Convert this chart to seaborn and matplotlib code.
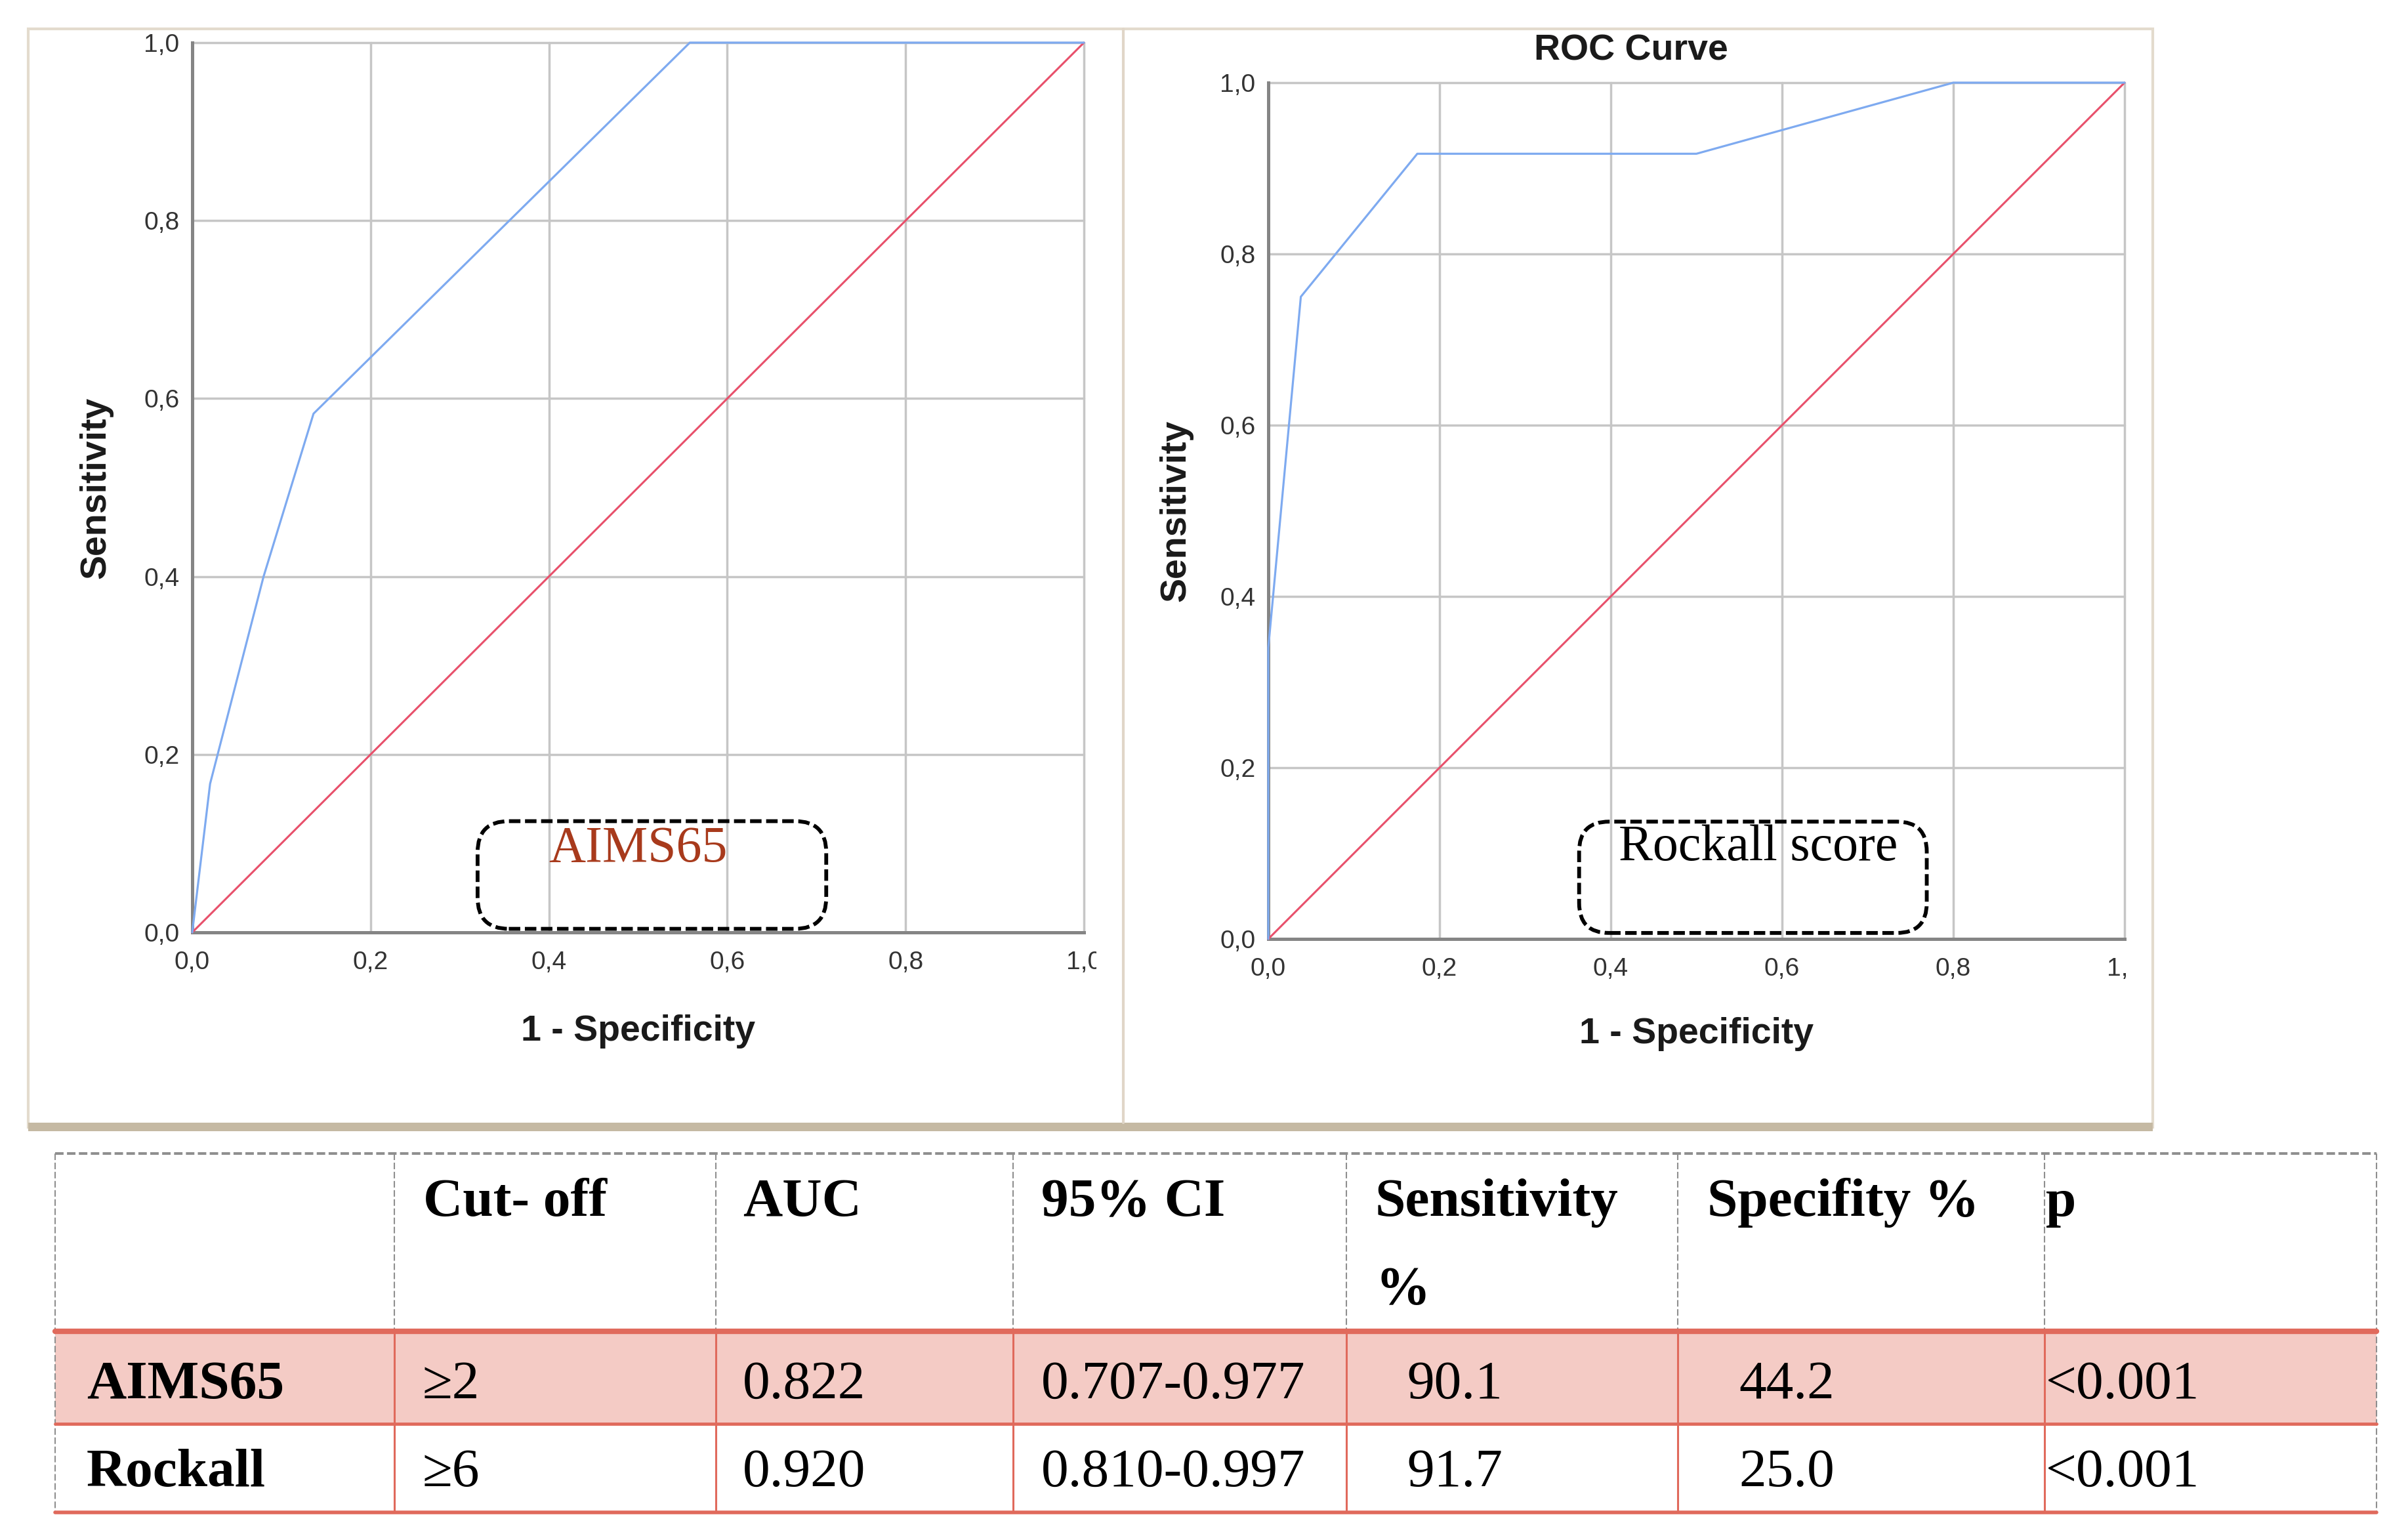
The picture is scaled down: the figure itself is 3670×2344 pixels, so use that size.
import matplotlib
matplotlib.use("Agg")
import matplotlib.pyplot as plt
import seaborn as sns
from matplotlib.patches import FancyBboxPatch, Rectangle
from matplotlib.transforms import Bbox, TransformedBbox

# Curvas ROC
aims_fpr = [0.0, 0.02, 0.08, 0.136, 0.558, 1.0]
aims_tpr = [0.0, 0.167, 0.40, 0.583, 1.0, 1.0]
rock_fpr = [0.0, 0.0, 0.038, 0.174, 0.50, 0.80, 1.0]
rock_tpr = [0.0, 0.34, 0.75, 0.917, 0.917, 1.0, 1.0]
ref_line = [0.0, 1.0]

ticks = [0.0, 0.2, 0.4, 0.6, 0.8, 1.0]
tick_labels = ["0,0", "0,2", "0,4", "0,6", "0,8", "1,0"]

# Tabla
col_names = ["", "Cut- off", "AUC", "95% CI", "Sensitivity\n%", "Specifity %", "p"]
row_names = ["AIMS65", "Rockall"]
cutoffs = ["≥2", "≥6"]
aucs = ["0.822", "0.920"]
cis = ["0.707-0.977", "0.810-0.997"]
sens = ["90.1", "91.7"]
spec = ["44.2", "25.0"]
pvals = ["<0.001", "<0.001"]

W, H = 3670, 2344
sns.set_style("white")
plt.rcParams["font.family"] = ["Liberation Sans", "DejaVu Sans"]

fig = plt.figure(figsize=(W / 100, H / 100), dpi=100)

# Capa de fondo en pixeles: marco de los graficos y tabla
bg = fig.add_axes([0, 0, 1, 1], zorder=0)
bg.set_xlim(0, W)
bg.set_ylim(H, 0)
bg.axis("off")

frame_r = 3281
bg.add_patch(Rectangle((43, 44), frame_r - 43, 1674, fill=False, ec="#e3dbcd", lw=3))
bg.plot([1712, 1712], [44, 1711], color="#e0d6c8", lw=3)
bg.add_patch(Rectangle((43, 1711), frame_r - 43, 13, color="#c5b9a3", lw=0))

serif = ["Liberation Serif", "DejaVu Serif"]
col_x = [84, 601, 1091, 1544, 2052, 2557, 3116, 3622]
t_top, t_head, t_r1, t_r2 = 1758, 2029, 2170, 2305
gray = "#8f8f8f"
red = "#e06a5c"

bg.add_patch(Rectangle((col_x[0], t_head), col_x[-1] - col_x[0], t_r1 - t_head,
                       color="#f4cbc5", lw=0))
bg.plot([col_x[0], col_x[-1]], [t_top, t_top], color=gray, lw=2.9, ls=(0, (3.2, 1.3)))
for i, x in enumerate(col_x):
    if i in (0, len(col_x) - 1):
        bg.plot([x, x], [t_top, t_r2], color=gray, lw=1.5, ls=(0, (4.8, 1.9)))
    else:
        bg.plot([x, x], [t_top, t_head], color=gray, lw=1.5, ls=(0, (4.8, 1.9)))
        bg.plot([x, x], [t_head, t_r2], color=red, lw=2.2)
bg.plot([col_x[0], col_x[-1]], [t_head, t_head], color=red, lw=6)
bg.plot([col_x[0], col_x[-1]], [t_r1, t_r1], color=red, lw=3.5)
bg.plot([col_x[0], col_x[-1]], [t_r2, t_r2], color=red, lw=4)

fs = 60
head_off = [44, 44, 41, 43, 44, 45, 2]
for j, name in enumerate(col_names):
    for k, line in enumerate(name.split("\n")):
        bg.text(col_x[j] + head_off[j], 1853 + k * 134, line, family=serif, fontsize=fs,
                fontweight="bold", va="baseline", ha="left", color="black")

rows = list(zip(row_names, cutoffs, aucs, cis, sens, spec, pvals))
row_base = [2131, 2265]
offsets = [48, 43, 41, 43, 92, 93, 2]
for r, vals in enumerate(rows):
    for j, v in enumerate(vals):
        bg.text(col_x[j] + offsets[j], row_base[r], v, family=serif, fontsize=fs,
                fontweight="bold" if j == 0 else "normal", va="baseline", ha="left",
                color="black")


def px_axes(x0, x1, y_top, y_bot):
    return fig.add_axes([x0 / W, 1 - y_bot / H, (x1 - x0) / W, (y_bot - y_top) / H], zorder=2)


def draw_roc(ax, fpr, tpr, clip_px):
    ax.set_facecolor("white")
    sns.lineplot(x=ref_line, y=ref_line, ax=ax, color="#e8506b", lw=2.2, sort=False,
                 estimator=None, zorder=3, clip_on=False)
    sns.lineplot(x=fpr, y=tpr, ax=ax, color="#7eaaf0", lw=2.3, sort=False,
                 estimator=None, zorder=4, clip_on=False)
    ax.set_xlim(0, 1)
    ax.set_ylim(0, 1)
    ax.set_xticks(ticks)
    ax.set_xticklabels(tick_labels)
    ax.set_yticks(ticks)
    ax.set_yticklabels(tick_labels)
    ax.set_xlabel("")
    ax.set_ylabel("")
    ax.tick_params(axis="x", length=0, labelsize=28, labelcolor="#333333", pad=20)
    ax.tick_params(axis="y", length=0, labelsize=28, labelcolor="#333333", pad=14)
    ax.grid(True, color="#c6c6c6", lw=2.5)
    for gl in ax.get_xgridlines() + ax.get_ygridlines():
        gl.set_clip_on(False)
    for s in ["top", "right"]:
        ax.spines[s].set_visible(False)
    for s in ["left", "bottom"]:
        ax.spines[s].set_color("#858585")
        ax.spines[s].set_linewidth(3.6)
        ax.spines[s].set_zorder(2.5)
    ax.text(0.5, -0.111, "1 - Specificity", transform=ax.transAxes, ha="center",
            va="center", fontsize=40, fontweight="bold", color="#1a1a1a")
    ax.text(-0.108, 0.5, "Sensitivity", transform=ax.transAxes, ha="center",
            va="center", rotation=90, fontsize=40, fontweight="bold", color="#1a1a1a")
    last = ax.get_xticklabels()[-1]
    last.set_clip_on(True)
    last.set_clip_box(TransformedBbox(Bbox.from_extents(0, 0, clip_px / W, 1), fig.transFigure))


def draw_box(ax, x0, x1, y0, y1, label, color, tx, ty):
    ax.add_patch(FancyBboxPatch((x0, y0), x1 - x0, y1 - y0,
                                boxstyle="round,pad=0,rounding_size=0.035",
                                fill=False, ec="black", lw=4.2, ls=(0, (3.0, 1.2)),
                                zorder=5, clip_on=False))
    ax.text(tx, ty, label, family=serif, fontsize=56, color=color, ha="center",
            va="baseline", zorder=6)


ax1 = px_axes(293, 1652, 65, 1421)
draw_roc(ax1, aims_fpr, aims_tpr, 1671)
draw_box(ax1, 0.32, 0.711, 0.004, 0.125, "AIMS65", "#a83a1c", 0.50, 0.080)

ax2 = px_axes(1933, 3238, 126, 1431)
draw_roc(ax2, rock_fpr, rock_tpr, 3243)
draw_box(ax2, 0.363, 0.769, 0.007, 0.137, "Rockall score", "black", 0.572, 0.092)

fig.text(2486 / W, 1 - 78 / H, "ROC Curve", ha="center", va="center", fontsize=40,
         fontweight="bold", color="#1a1a1a")

fig.savefig("out.png", dpi=100, facecolor="white")
